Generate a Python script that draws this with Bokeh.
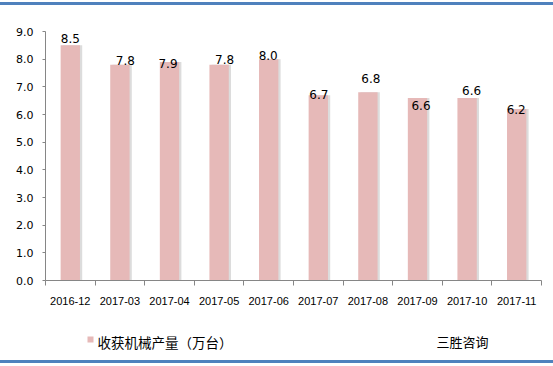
from bokeh.plotting import figure
from bokeh.models import ColumnDataSource, FixedTicker, Range1d, Spacer, Div
from bokeh.core.properties import value
from bokeh.layouts import column
from bokeh.embed import file_html
from bokeh.resources import INLINE

categories = ["2016-12", "2017-03", "2017-04", "2017-05", "2017-06",
              "2017-07", "2017-08", "2017-09", "2017-10", "2017-11"]
values = [8.5, 7.8, 7.9, 7.8, 8.0, 6.7, 6.8, 6.6, 6.6, 6.2]
series_name = "收获机械产量（万台）"
source_name = "三胜咨询"
y_ticks = [0, 1, 2, 3, 4, 5, 6, 7, 8, 9]

# label nudges (pixels), imitating the reference's label placement
label_dx = [0, 5.5, -1.5, 5.5, -0.5, 0.5, 3, 3.5, 4.5, -0.5]
label_dy = [-7, -4, 1.5, -5, -4, -1, -13.5, 7.5, -7, 1]

BAR = "#e6b9b8"
BLUE = "#4f81bd"
AXIS = "#868686"
W = 553
LEFT, RIGHT = 45, 12

xs = [i + 0.5 for i in range(len(categories))]
src = ColumnDataSource(dict(
    x=xs, top=values, label=["%.1f" % v for v in values],
    dx=label_dx, dy=label_dy,
    xs=[x + 0.045 for x in xs],
))

p = figure(width=W, height=315, output_backend="svg", toolbar_location=None,
           title=None,
           x_range=Range1d(0, len(categories)), y_range=Range1d(0, 9),
           min_border_left=LEFT, min_border_right=RIGHT, min_border_top=26,
           min_border_bottom=40)
p.outline_line_color = None
p.grid.visible = False
p.background_fill_color = "white"
p.border_fill_color = "white"

# shadow then bars
p.vbar(x="xs", top="top", width=0.39, bottom=0, source=src,
       fill_color="#dcdcdc", line_color=None)
p.vbar(x="x", top="top", width=0.39, bottom=0, source=src,
       fill_color=BAR, line_color=None)

p.text(x="x", y="top", text="label", source=src, x_offset="dx", y_offset="dy",
       text_align="center", text_baseline="middle", text_font_size="12px",
       text_font=value("DejaVu Sans"), text_color="#000000")

# x axis: category labels at centres, ticks at boundaries
xa = p.xaxis[0]
xa.ticker = FixedTicker(ticks=xs, minor_ticks=list(range(len(categories) + 1)))
xa.major_label_overrides = {x: c for x, c in zip(xs, categories)}
xa.major_tick_in = 0
xa.major_tick_out = 0
xa.minor_tick_in = 0
xa.minor_tick_out = 5
xa.minor_tick_line_color = AXIS
xa.axis_line_color = AXIS
xa.major_label_standoff = 11
xa.major_label_text_font = "Liberation Sans"
xa.major_label_text_font_size = "11px"
xa.major_label_text_color = "#000000"

ya = p.yaxis[0]
ya.ticker = FixedTicker(ticks=y_ticks)
ya.major_label_overrides = {t: "%.1f" % t for t in y_ticks}
ya.minor_tick_line_color = None
ya.major_tick_in = 0
ya.major_tick_out = 3
ya.major_tick_line_color = AXIS
ya.axis_line_color = AXIS
ya.major_label_standoff = 9
ya.major_label_text_font = "DejaVu Sans"
ya.major_label_text_font_size = "11px"
ya.major_label_text_color = "#000000"

# legend strip: frame aligned with the main plot's frame, x in page pixels
LH = 40
lg = figure(width=W, height=LH, output_backend="svg", toolbar_location=None,
            title=None, x_axis_location=None, y_axis_location=None,
            x_range=Range1d(LEFT, W - RIGHT), y_range=Range1d(0, LH),
            min_border_left=LEFT, min_border_right=RIGHT, min_border_top=0,
            min_border_bottom=0)
lg.grid.visible = False
lg.outline_line_color = None
lg.background_fill_color = "white"
lg.border_fill_color = "white"
lg.scatter(x=[90], y=[LH - 19], marker="square", size=6, fill_color=BAR,
           line_color=None)
lg.text(x=[97], y=[LH - 21], text=[series_name],
        text_font=value("Noto Sans CJK SC"), text_font_size="13.5px",
        text_color="#000000", text_baseline="middle", text_align="left")
lg.text(x=[436], y=[LH - 21], text=[source_name],
        text_font=value("Noto Sans CJK SC"), text_font_size="13px",
        text_color="#000000", text_baseline="middle", text_align="left")


def band(h):
    return Div(text="", width=W, height=h, margin=0,
               styles={"background-color": BLUE, "width": "%dpx" % W,
                       "height": "%dpx" % h})


layout = column(Spacer(width=W, height=2), band(3), p, lg, band(3),
                Spacer(width=W, height=3), spacing=0)

open("out.html", "w").write(file_html(layout, INLINE))
